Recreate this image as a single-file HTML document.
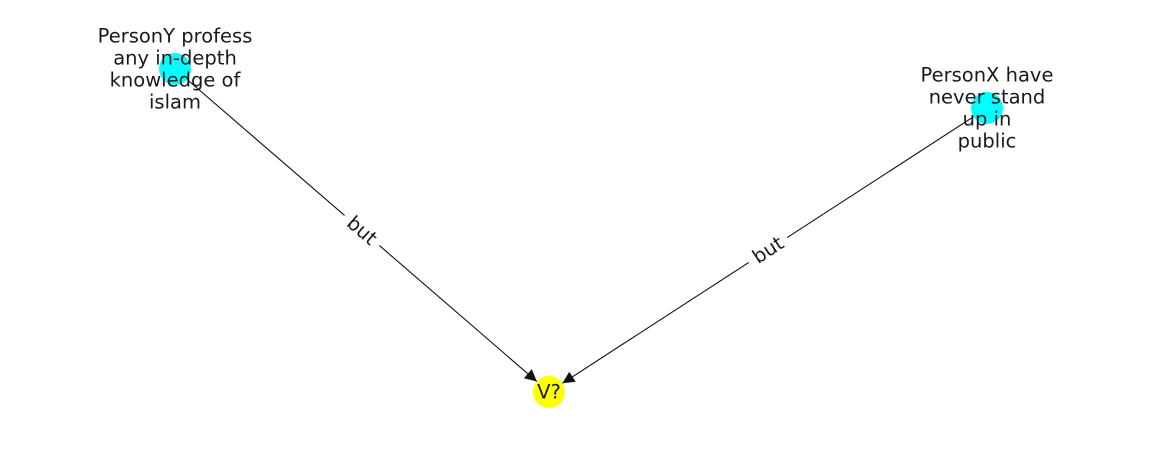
<!DOCTYPE html>
<html>
<head>
<meta charset="utf-8">
<style>
  html,body{margin:0;padding:0;background:#fff;}
  svg{display:block;}
  text{font-family:"DejaVu Sans","Liberation Sans",sans-serif;fill:#1a1a1a;}
</style>
</head>
<body>
<svg id="chart" width="1162" height="462" viewBox="0 0 1162 462" xmlns="http://www.w3.org/2000/svg">
  <defs>
    <marker id="arrow" viewBox="0 0 10 10" refX="10" refY="5" markerWidth="14" markerHeight="12" markerUnits="userSpaceOnUse" orient="auto">
      <path d="M0,0 L10,5 L0,10 z" fill="#111"/>
    </marker>
  </defs>
  <g id="edges"></g>
  <g id="nodes"></g>
  <g id="edge-labels"></g>
</svg>
<script>
const nodeIds = ["personY", "personX", "v"];
const nodeLabels = [["PersonY profess","any in-depth","knowledge of","islam"],["PersonX have","never stand","up in","public"],["V?"]];
const nodeX = [175, 987, 549];
const nodeY = [69, 108, 392];
const nodeColors = ["#00ffff", "#00ffff", "#ffff00"];
const edgeSources = [0, 1];
const edgeTargets = [2, 2];
const edgeLabels = ["but", "but"];

const NS = "http://www.w3.org/2000/svg";
const R = 16;
const FS = 19.5;
const eg = document.getElementById("edges");
const ng = document.getElementById("nodes");
const lg = document.getElementById("edge-labels");

for (let i = 0; i < edgeSources.length; i++) {
  const s = edgeSources[i], t = edgeTargets[i];
  const x1 = nodeX[s], y1 = nodeY[s], x2 = nodeX[t], y2 = nodeY[t];
  const dx = x2 - x1, dy = y2 - y1, len = Math.hypot(dx, dy);
  const ux = dx / len, uy = dy / len;
  const line = document.createElementNS(NS, "line");
  line.setAttribute("x1", x1); line.setAttribute("y1", y1);
  line.setAttribute("x2", x2 - ux * R); line.setAttribute("y2", y2 - uy * R);
  line.setAttribute("stroke", "#111"); line.setAttribute("stroke-width", "1.1");
  line.setAttribute("marker-end", "url(#arrow)");
  
  
  eg.appendChild(line);

  const mx = (x1 + x2) / 2, my = (y1 + y2) / 2;
  let ang = Math.atan2(dy, dx) * 180 / Math.PI;
  if (ang > 90) ang -= 180; if (ang < -90) ang += 180;
  const g = document.createElementNS(NS, "g");
  g.setAttribute("transform", `translate(${mx},${my}) rotate(${ang})`);
  
  
  const bg = document.createElementNS(NS, "rect");
  bg.setAttribute("x", -23); bg.setAttribute("y", -14);
  bg.setAttribute("width", 46); bg.setAttribute("height", 28);
  bg.setAttribute("fill", "#fff");
  g.appendChild(bg);
  const tx = document.createElementNS(NS, "text");
  tx.setAttribute("text-anchor", "middle"); tx.setAttribute("dominant-baseline", "central");
  tx.setAttribute("font-size", FS);
  tx.textContent = edgeLabels[i];
  g.appendChild(tx);
  lg.appendChild(g);
}

for (let i = 0; i < nodeIds.length; i++) {
  const c = document.createElementNS(NS, "circle");
  c.setAttribute("cx", nodeX[i]); c.setAttribute("cy", nodeY[i]); c.setAttribute("r", R);
  c.setAttribute("fill", nodeColors[i]);
  
  
  ng.appendChild(c);
  const lines = nodeLabels[i];
  const lh = 22;
  const t = document.createElementNS(NS, "text");
  t.setAttribute("text-anchor", "middle"); t.setAttribute("font-size", FS);
  
  
  const start = nodeY[i] - (lines.length - 1) * lh / 2;
  lines.forEach((ln, k) => {
    const sp = document.createElementNS(NS, "tspan");
    sp.setAttribute("x", nodeX[i]); sp.setAttribute("y", start + k * lh);
    sp.setAttribute("dominant-baseline", "central");
    sp.textContent = ln;
    t.appendChild(sp);
  });
  ng.appendChild(t);
}
</script>
</body>
</html>
